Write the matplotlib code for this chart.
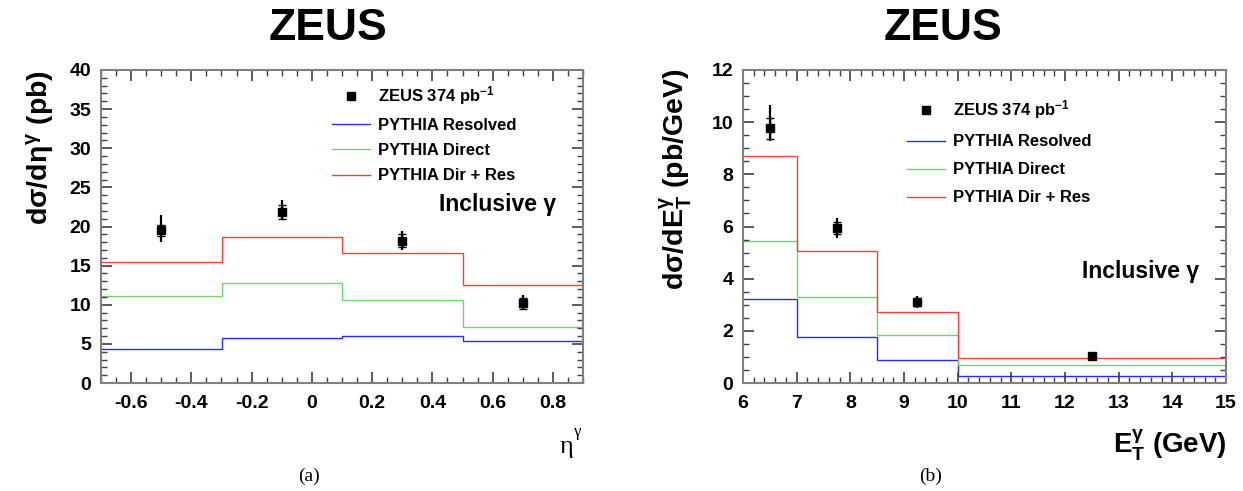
import matplotlib
matplotlib.use('Agg')
import matplotlib.pyplot as plt
from matplotlib.lines import Line2D
from matplotlib.ticker import MultipleLocator
import numpy as np

plt.rcParams['font.family'] = ['Liberation Sans', 'DejaVu Sans']
plt.rcParams['font.weight'] = 'bold'
plt.rcParams['mathtext.fontset'] = 'custom'
plt.rcParams['mathtext.rm'] = 'Liberation Sans:bold'
plt.rcParams['mathtext.it'] = 'Liberation Sans:bold'
plt.rcParams['mathtext.bf'] = 'Liberation Sans:bold'

# (a) d sigma / d eta
eta_edges = [-0.7, -0.3, 0.1, 0.5, 0.9]
eta_res = [4.4, 5.8, 6.0, 5.4]
eta_dir = [11.1, 12.8, 10.6, 7.1]
eta_sum = [15.5, 18.7, 16.6, 12.5]
eta_x = [-0.5, -0.1, 0.3, 0.7]
eta_y = [19.5, 21.9, 18.2, 10.2]
eta_stat = [0.7, 0.9, 0.8, 0.7]
eta_up = [2.0, 1.5, 1.2, 1.0]
eta_dn = [1.5, 1.1, 1.2, 0.85]

# (b) d sigma / d E_T
et_edges = [6, 7, 8.5, 10, 15]
et_res = [3.23, 1.76, 0.88, 0.27]
et_dir = [5.46, 3.30, 1.85, 0.68]
et_sum = [8.71, 5.06, 2.73, 0.95]
et_x = [6.5, 7.75, 9.25, 12.5]
et_y = [9.77, 5.94, 3.10, 1.04]
et_stat = [0.40, 0.22, 0.15, 0.05]
et_up = [0.87, 0.38, 0.24, 0.08]
et_dn = [0.48, 0.39, 0.24, 0.08]

labels = ['ZEUS 374 pb$^{-1}$', 'PYTHIA Resolved', 'PYTHIA Direct', 'PYTHIA Dir + Res']
c_res, c_dir, c_sum = '#2a2aff', '#6ad86a', '#ff3c3c'
W, H = 1243, 491

fig = plt.figure(figsize=(W/100, H/100), dpi=100)
ax1 = fig.add_axes([101/W, 108/H, 482/W, 313/H])
ax2 = fig.add_axes([743/W, 108/H, 483/W, 313/H])


def draw(ax, edges, res, dr, sm, x, y, stat, up, dn):
    ax.stairs(res, edges, color=c_res, lw=1.0, baseline=None)
    ax.stairs(dr, edges, color=c_dir, lw=1.0, baseline=None)
    ax.stairs(sm, edges, color=c_sum, lw=1.0, baseline=None)
    ax.errorbar(x, y, yerr=[dn, up], fmt='none', ecolor='k', elinewidth=1.6)
    ax.errorbar(x, y, yerr=stat, fmt='s', color='k', ms=6, capsize=3,
                elinewidth=1.0, capthick=1.0)
    for s in ax.spines.values():
        s.set_color('#808080')
        s.set_linewidth(1.5)
    ax.tick_params(which='both', direction='in', top=True, right=True,
                   color='#404040', labelsize=14)
    ax.tick_params(which='major', length=8, width=1.2)
    ax.tick_params(which='minor', length=4, width=1.0)
    ax.tick_params(axis='x', pad=9)
    ax.tick_params(axis='y', pad=7)
    for t in ax.get_xticklabels() + ax.get_yticklabels():
        t.set_fontweight('bold')


draw(ax1, eta_edges, eta_res, eta_dir, eta_sum, eta_x, eta_y, eta_stat, eta_up, eta_dn)
ax1.set_xlim(-0.7, 0.9)
ax1.set_ylim(0, 40)
ax1.xaxis.set_major_locator(MultipleLocator(0.2))
ax1.xaxis.set_minor_locator(MultipleLocator(0.05))
ax1.yaxis.set_major_locator(MultipleLocator(5))
ax1.yaxis.set_minor_locator(MultipleLocator(1))
ax1.set_xticks([-0.6, -0.4, -0.2, 0, 0.2, 0.4, 0.6, 0.8])
ax1.set_xticklabels(['-0.6', '-0.4', '-0.2', '0', '0.2', '0.4', '0.6', '0.8'],
                    fontweight='bold')

draw(ax2, et_edges, et_res, et_dir, et_sum, et_x, et_y, et_stat, et_up, et_dn)
ax2.set_xlim(6, 15)
ax2.set_ylim(0, 12)
ax2.xaxis.set_major_locator(MultipleLocator(1))
ax2.xaxis.set_minor_locator(MultipleLocator(0.2))
ax2.yaxis.set_major_locator(MultipleLocator(2))
ax2.yaxis.set_minor_locator(MultipleLocator(0.5))

# legends
for ax, anchor, spacing in [(ax1, (0.465, 0.975), 0.62), (ax2, (0.325, 0.93), 0.78)]:
    handles = [Line2D([], [], color='k', marker='s', ms=6, ls='none'),
               Line2D([], [], color=c_res, lw=1.0),
               Line2D([], [], color=c_dir, lw=1.0),
               Line2D([], [], color=c_sum, lw=1.0)]
    ax.legend(handles, labels, loc='upper left', bbox_to_anchor=anchor,
              frameon=False, prop={'size': 12, 'weight': 'bold'},
              handlelength=2.3, handletextpad=0.5, labelspacing=spacing,
              borderaxespad=0)

ax1.text(0.945, 0.57, 'Inclusive γ', transform=ax1.transAxes, ha='right',
         va='center', fontsize=16.5, fontweight='bold')
ax2.text(0.945, 0.355, 'Inclusive γ', transform=ax2.transAxes, ha='right',
         va='center', fontsize=16.5, fontweight='bold')

# titles and axis labels
fig.text(328/W, 1-28/H, 'ZEUS', ha='center', va='center', fontsize=32, fontweight='bold')
fig.text(943/W, 1-28/H, 'ZEUS', ha='center', va='center', fontsize=32, fontweight='bold')

fig.text(40/W, 1-70/H, r'd$\sigma$/d$\eta^{\gamma}$ (pb)', rotation=90,
         ha='center', va='top', fontsize=20.5, fontweight='bold')
fig.text(676/W, 1-68/H, r'd$\sigma$/dE$_T^{\gamma}$ (pb/GeV)', rotation=90,
         ha='center', va='top', fontsize=20.5, fontweight='bold')

fig.text(566/W, 1-447/H, 'η', ha='center', va='center', fontsize=19,
         family='Liberation Serif', fontweight='normal')
fig.text(578/W, 1-432/H, 'γ', ha='center', va='center', fontsize=12,
         family='Liberation Serif', fontweight='normal')
fig.text(1227/W, 1-445/H, r'E$_T^{\gamma}$ (GeV)', ha='right', va='center',
         fontsize=20, fontweight='bold')

fig.text(309/W, 1-476/H, '(a)', ha='center', va='center', fontsize=14,
         family='Liberation Serif', fontweight='normal')
fig.text(931/W, 1-476/H, '(b)', ha='center', va='center', fontsize=14,
         family='Liberation Serif', fontweight='normal')

fig.savefig('out.png', dpi=100)
